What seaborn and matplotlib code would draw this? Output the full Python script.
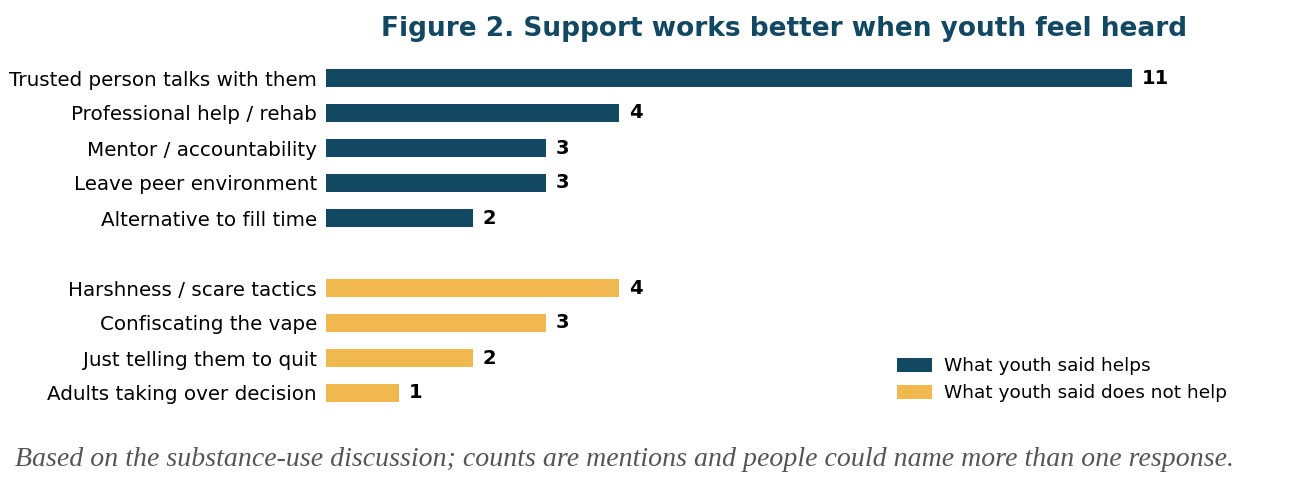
import matplotlib
matplotlib.use("Agg")
from matplotlib import pyplot as plt
import pandas as pd
import seaborn as sns

helps = ['Trusted person talks with them', 'Professional help / rehab',
         'Mentor / accountability', 'Leave peer environment', 'Alternative to fill time']
helps_n = [11, 4, 3, 3, 2]
not_help = ['Harshness / scare tactics', 'Confiscating the vape',
            'Just telling them to quit', 'Adults taking over decision']
not_help_n = [4, 3, 2, 1]
groups = ['What youth said helps', 'What youth said does not help']

DARK = '#134862'
GOLD = '#f0b84e'

labels = helps + not_help
counts = helps_n + not_help_n
grp = [groups[0]] * len(helps) + [groups[1]] * len(not_help)
# leave a blank slot between the two groups
pos = list(range(len(helps))) + [len(helps) + 1 + i for i in range(len(not_help))]
df = pd.DataFrame({'label': labels, 'count': counts, 'group': grp, 'pos': pos})

sns.set_style('white')
plt.rcParams['font.family'] = ['DejaVu Sans']

fig = plt.figure(figsize=(13.12, 4.96), dpi=100)
ax = fig.add_axes([326 / 1312, 1 - 414 / 496, 916 / 1312, 357 / 496])
sns.barplot(data=df, x='count', y='pos', hue='group', orient='h', native_scale=True,
            dodge=False, width=0.52, palette=[DARK, GOLD], saturation=1,
            linewidth=0, ax=ax)

ax.set_ylim(9.6, -0.6)
ax.set_xlim(0, 12.5)
ax.set_yticks(df['pos'])
ax.set_yticklabels(df['label'], fontsize=14.3, color='black')
ax.tick_params(axis='y', length=0, pad=6.5)
ax.set_xticks([])
ax.set_xlabel('')
ax.set_ylabel('')
for s in ax.spines.values():
    s.set_visible(False)

for p, c in zip(df['pos'], df['count']):
    ax.text(c + 0.13, p, str(c), va='center', ha='left', fontsize=14,
            fontweight='bold', color='black')

leg = ax.legend(loc='lower right', frameon=False, fontsize=13.3, handlelength=1.9,
                handleheight=0.8, handletextpad=0.65, borderaxespad=0.3,
                bbox_to_anchor=(0.998, -0.004))
for t in leg.get_texts():
    t.set_color('black')

ax.set_title('Figure 2. Support works better when youth feel heard', fontsize=19,
             fontweight='bold', color=DARK, pad=15)

fig.text(15 / 1312, 1 - 460 / 496,
         'Based on the substance-use discussion; counts are mentions and people could name more than one response.',
         family='Liberation Serif', style='italic', fontsize=20.1, color='#555555', va='center')

fig.savefig('out.png', dpi=100, facecolor='white')
